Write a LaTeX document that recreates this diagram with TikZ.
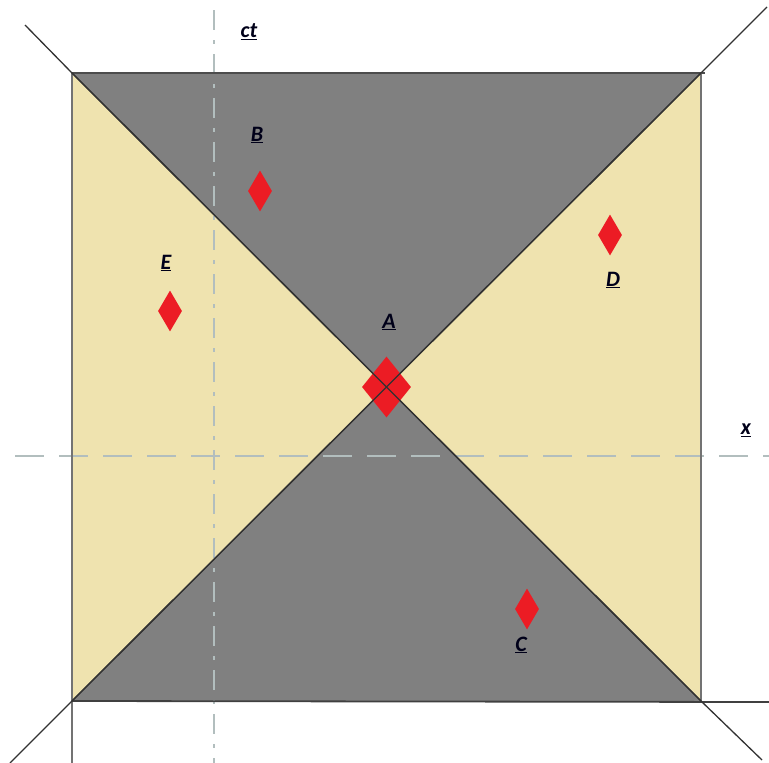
\documentclass[tikz,border=0pt]{standalone}
\usepackage{fontspec}
\setmainfont{Carlito}
\usetikzlibrary{shapes.geometric}
\definecolor{darkfill}{RGB}{128,128,128}
\definecolor{lightfill}{RGB}{239,227,175}
\definecolor{axiscol}{RGB}{178,190,190}
\definecolor{linecol}{RGB}{50,50,50}
\definecolor{mark}{RGB}{236,28,36}
\tikzset{
  evt/.style={shape=diamond, fill=mark, draw=none, inner sep=0pt, minimum width=24, minimum height=41},
  bigevt/.style={evt, minimum width=49, minimum height=61},
  lbl/.style={font=\fontsize{22}{24}\selectfont\bfseries\itshape, text=black!90!blue, inner sep=0pt},
  diag/.style={draw=linecol, line width=1.3},
  axis/.style={draw=axiscol, line width=1.8},
}
\begin{document}
\begin{tikzpicture}[x=1pt,y=-1pt]
\useasboundingbox (0,0) rectangle (769,763);
\coordinate (TL) at (72,73);
\coordinate (TR) at (701,73);
\coordinate (BL) at (72,701);
\coordinate (BR) at (701,701);
\coordinate (O) at (386.5,387);
% fills
\fill[darkfill] (TL) -- (TR) -- (O) -- cycle;
\fill[darkfill] (BL) -- (BR) -- (O) -- cycle;
\fill[lightfill] (TL) -- (BL) -- (O) -- cycle;
\fill[lightfill] (TR) -- (BR) -- (O) -- cycle;
% axes
\coordinate (ctTop) at (214,10);
\coordinate (ctBot) at (214,763);
\coordinate (xL) at (15,456);
\coordinate (xR) at (769,456);
\draw[axis, dash pattern=on 20pt off 10pt on 4pt off 10pt] (ctTop) -- (ctBot);
\draw[axis, dash pattern=on 29pt off 15pt] (xL) -- (xR);
% square borders
\draw[draw=black!70, line width=2.2] (TL) -- (705,73);
\draw[draw=black!55, line width=1.8] (TL) -- (72,763);
\draw[draw=black!55, line width=1.6] (TR) -- (BR);
\draw[draw=black!75, line width=1.8] (BL) -- (769,702);
% light-cone diagonals
\coordinate (dTL) at (25,25);
\coordinate (dTR) at (767,7);
\coordinate (dBL) at (10,763);
\coordinate (dBR) at (762,760);
\draw[diag] (dTL) -- (TL) -- (BR) -- (dBR);
\draw[diag] (dTR) -- (TR) -- (BL) -- (dBL);
% events
\node[bigevt] (A) at (O) {};
\draw[diag] (TL) -- (BR);
\draw[diag] (TR) -- (BL);
\node[evt] (B) at (260,191) {};
\node[evt] (E) at (170,311) {};
\node[evt] (D) at (610,235) {};
\node[evt] (C) at (527,609) {};
% labels
\node[lbl] (lct) at (249,32) {\underline{ct}};
\node[lbl] (lB) at (257,135) {\underline{B}};
\node[lbl] (lE) at (166,263) {\underline{E}};
\node[lbl] (lA) at (389,322) {\underline{A}};
\node[lbl] (lD) at (613,280) {\underline{D}};
\node[lbl] (lC) at (521,645) {\underline{C}};
\node[lbl] (lx) at (746,430) {\underline{x}};
\end{tikzpicture}
\end{document}
